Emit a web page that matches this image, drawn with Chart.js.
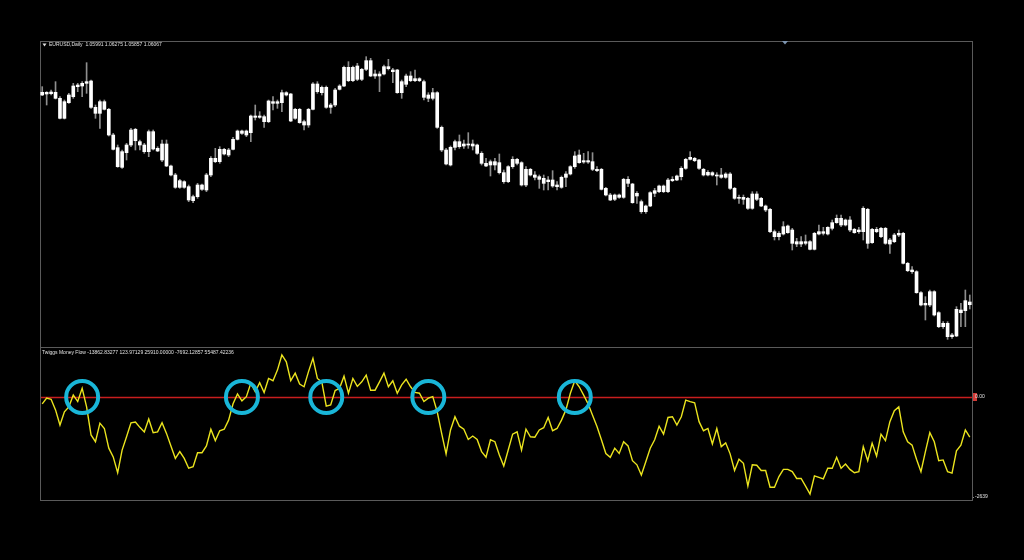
<!DOCTYPE html>
<html>
<head>
<meta charset="utf-8">
<title>EURUSD Daily - Twiggs Money Flow</title>
<script src="https://cdn.jsdelivr.net/npm/chart.js@4.4.1/dist/chart.umd.min.js"></script>
<style>
  html, body { margin: 0; padding: 0; background: #000; }
  #chart { display: block; }
</style>
</head>
<body>
<canvas id="chart" width="1024" height="560"></canvas>
<script>
// EURUSD daily candles, oldest first
var openP = [
  1.1228,1.1231,1.1232,1.1236,1.1218,1.1208,1.1205,1.1223,1.1253,1.1255,
  1.1263,1.1270,1.1191,1.1173,1.1185,1.1185,1.1108,1.1070,1.1058,1.1055,
  1.1078,1.1091,1.1088,1.1078,1.1058,1.1066,1.1068,1.1081,1.1081,1.1015,
  1.0988,1.0971,1.0968,1.0953,1.0923,1.0923,1.0945,1.0943,1.0988,1.1028,
  1.1028,1.1051,1.1063,1.1065,1.1095,1.1113,1.1120,1.1115,1.1161,1.1165,
  1.1163,1.1148,1.1203,1.1208,1.1205,1.1228,1.1231,1.1185,1.1185,1.1148,
  1.1138,1.1185,1.1238,1.1251,1.1251,1.1198,1.1198,1.1245,1.1255,1.1271,
  1.1311,1.1275,1.1305,1.1305,1.1331,1.1291,1.1285,1.1291,1.1307,1.1303,
  1.1303,1.1268,1.1260,1.1271,1.1277,1.1271,1.1268,1.1228,1.1218,1.1235,
  1.1131,1.1063,1.1018,1.1071,1.1073,1.1081,1.1078,1.1081,1.1078,1.1053,
  1.1023,1.1018,1.1028,1.1025,1.0995,1.0968,1.1013,1.1023,1.1025,1.1005,
  1.0988,1.0988,1.0983,1.0978,1.0968,1.0973,1.0958,1.0951,1.0981,1.0991,
  1.1013,1.1025,1.1031,1.1027,1.1028,1.1005,1.1005,1.0948,1.0928,1.0915,
  1.0921,1.0921,1.0963,1.0961,1.0933,1.0908,1.0895,1.0895,1.0933,1.0938,
  1.0955,1.0938,1.0971,1.0973,1.0983,1.1008,1.1035,1.1038,1.1033,1.1005,
  1.0996,1.0995,1.0988,1.0988,1.0981,1.0991,1.0948,1.0921,1.0921,1.0918,
  1.0888,1.0915,1.0918,1.0895,1.0885,1.0818,1.0813,1.0811,1.0815,1.0823,
  1.0788,1.0781,1.0783,1.0788,1.0765,1.0811,1.0813,1.0811,1.0828,1.0845,
  1.0858,1.0853,1.0853,1.0825,1.0818,1.0818,1.0885,1.0825,1.0818,1.0828,
  1.0828,1.0793,1.0788,1.0808,1.0813,1.0723,1.0703,1.0698,1.0635,1.0603,
  1.0598,1.0638,1.0575,1.0543,1.0543,1.0508,1.0505,1.0575,1.0581,1.0599
];
var highP = [
  1.1253,1.1238,1.1243,1.1268,1.1223,1.1213,1.1233,1.1263,1.1263,1.1268,
  1.1325,1.1273,1.1198,1.1213,1.1213,1.1188,1.1113,1.1078,1.1063,1.1083,
  1.1128,1.1128,1.1093,1.1083,1.1123,1.1123,1.1073,1.1093,1.1093,1.1018,
  1.0993,1.0975,1.0971,1.0958,1.0928,1.0963,1.0961,1.0993,1.1043,1.1068,
  1.1073,1.1068,1.1068,1.1101,1.1123,1.1123,1.1123,1.1168,1.1198,1.1178,
  1.1168,1.1213,1.1223,1.1213,1.1243,1.1238,1.1233,1.1188,1.1188,1.1153,
  1.1188,1.1265,1.1268,1.1255,1.1255,1.1203,1.1248,1.1259,1.1315,1.1328,
  1.1315,1.1323,1.1308,1.1343,1.1338,1.1303,1.1298,1.1318,1.1335,1.1308,
  1.1305,1.1273,1.1291,1.1298,1.1303,1.1280,1.1273,1.1235,1.1248,1.1238,
  1.1135,1.1068,1.1075,1.1093,1.1108,1.1093,1.1115,1.1093,1.1081,1.1058,
  1.1038,1.1033,1.1038,1.1051,1.1003,1.1016,1.1043,1.1038,1.1028,1.1013,
  1.1008,1.0998,1.0988,1.0988,1.0983,1.1001,1.0968,1.0985,1.0998,1.1016,
  1.1058,1.1063,1.1053,1.1058,1.1055,1.1013,1.1008,1.0951,1.0933,1.0931,
  1.0931,1.0978,1.0983,1.0963,1.0938,1.0913,1.0898,1.0938,1.0948,1.0958,
  1.0958,1.0978,1.0983,1.0988,1.1013,1.1038,1.1058,1.1041,1.1035,1.1008,
  1.1001,1.0998,1.0995,1.1008,1.0995,1.0995,1.0951,1.0928,1.0928,1.0921,
  1.0938,1.0938,1.0921,1.0898,1.0888,1.0823,1.0818,1.0848,1.0838,1.0828,
  1.0798,1.0803,1.0808,1.0791,1.0816,1.0838,1.0831,1.0833,1.0853,1.0868,
  1.0868,1.0856,1.0863,1.0828,1.0831,1.0893,1.0888,1.0828,1.0831,1.0831,
  1.0831,1.0798,1.0813,1.0823,1.0816,1.0726,1.0713,1.0701,1.0638,1.0623,
  1.0643,1.0641,1.0578,1.0548,1.0548,1.0513,1.0593,1.0603,1.0643,1.0628
];
var lowP = [
  1.1226,1.1198,1.1228,1.1216,1.1156,1.1156,1.1203,1.1218,1.1238,1.1223,
  1.1233,1.1188,1.1158,1.1128,1.1183,1.1105,1.1063,1.1011,1.1008,1.1033,
  1.1073,1.1063,1.1063,1.1053,1.1043,1.1063,1.1058,1.1028,1.1013,1.0985,
  1.0948,1.0948,1.0948,1.0908,1.0905,1.0918,1.0942,1.0938,1.0983,1.1025,
  1.1023,1.1048,1.1043,1.1063,1.1093,1.1110,1.1103,1.1088,1.1153,1.1158,
  1.1131,1.1145,1.1183,1.1188,1.1178,1.1225,1.1148,1.1155,1.1143,1.1123,
  1.1131,1.1183,1.1233,1.1228,1.1188,1.1173,1.1193,1.1243,1.1253,1.1268,
  1.1268,1.1271,1.1271,1.1301,1.1283,1.1278,1.1238,1.1288,1.1303,1.1265,
  1.1233,1.1218,1.1253,1.1268,1.1268,1.1268,1.1213,1.1208,1.1213,1.1128,
  1.1058,1.1018,1.1015,1.1063,1.1068,1.1068,1.1068,1.1063,1.1050,1.1018,
  1.1013,1.0985,1.1003,1.0991,1.0963,1.0965,1.1008,1.1018,1.0955,1.0953,
  1.0985,1.0973,1.0948,1.0943,1.0943,1.0951,1.0943,1.0948,1.0953,1.0988,
  1.1008,1.1023,1.1023,1.1023,1.1001,1.0998,1.0943,1.0925,1.0911,1.0911,
  1.0918,1.0918,1.0953,1.0903,1.0903,1.0873,1.0873,1.0893,1.0923,1.0935,
  1.0935,1.0935,1.0968,1.0971,1.0973,1.1005,1.1033,1.1028,1.1005,1.0985,
  1.0985,1.0985,1.0958,1.0978,1.0978,1.0945,1.0915,1.0903,1.0900,1.0885,
  1.0885,1.0911,1.0893,1.0878,1.0815,1.0793,1.0793,1.0808,1.0813,1.0763,
  1.0773,1.0773,1.0778,1.0763,1.0763,1.0808,1.0808,1.0808,1.0823,1.0843,
  1.0833,1.0835,1.0818,1.0813,1.0813,1.0793,1.0768,1.0783,1.0815,1.0800,
  1.0780,1.0753,1.0785,1.0803,1.0721,1.0698,1.0693,1.0633,1.0595,1.0553,
  1.0593,1.0565,1.0530,1.0528,1.0495,1.0498,1.0503,1.0533,1.0533,1.0586
];
var closeP = [
  1.1236,1.1236,1.1237,1.1218,1.1158,1.1158,1.1228,1.1255,1.1258,1.1263,
  1.1268,1.1191,1.1173,1.1208,1.1208,1.1108,1.1065,1.1013,1.1011,1.1078,
  1.1123,1.1125,1.1078,1.1058,1.1118,1.1118,1.1060,1.1033,1.1015,1.0988,
  1.0951,1.0951,1.0951,1.0913,1.0911,1.0958,1.0958,1.0988,1.1038,1.1038,
  1.1065,1.1065,1.1048,1.1095,1.1120,1.1120,1.1108,1.1165,1.1165,1.1161,
  1.1148,1.1210,1.1208,1.1203,1.1235,1.1235,1.1150,1.1158,1.1145,1.1138,
  1.1185,1.1261,1.1261,1.1235,1.1191,1.1191,1.1243,1.1255,1.1311,1.1311,
  1.1271,1.1315,1.1275,1.1331,1.1285,1.1285,1.1291,1.1313,1.1313,1.1298,
  1.1235,1.1235,1.1285,1.1285,1.1271,1.1277,1.1221,1.1218,1.1235,1.1131,
  1.1063,1.1021,1.1071,1.1088,1.1088,1.1075,1.1081,1.1075,1.1053,1.1023,
  1.1015,1.1028,1.1018,1.0995,1.0968,1.1013,1.1035,1.1035,1.0958,1.0958,
  1.1005,1.0981,1.0975,1.0963,1.0973,1.0955,1.0953,1.0981,1.0991,1.1013,
  1.1045,1.1048,1.1027,1.1031,1.1005,1.1001,1.0945,1.0928,1.0913,1.0928,
  1.0928,1.0975,1.0975,1.0905,1.0925,1.0878,1.0878,1.0935,1.0941,1.0955,
  1.0938,1.0973,1.0975,1.0985,1.1008,1.1035,1.1041,1.1031,1.1008,1.0988,
  1.0988,1.0988,1.0985,1.0981,1.0991,1.0948,1.0918,1.0918,1.0915,1.0888,
  1.0931,1.0931,1.0895,1.0883,1.0818,1.0803,1.0803,1.0833,1.0835,1.0783,
  1.0781,1.0788,1.0788,1.0765,1.0813,1.0818,1.0818,1.0831,1.0845,1.0858,
  1.0838,1.0838,1.0823,1.0815,1.0823,1.0888,1.0783,1.0785,1.0825,1.0803,
  1.0783,1.0781,1.0808,1.0813,1.0723,1.0701,1.0698,1.0635,1.0598,1.0598,
  1.0638,1.0568,1.0533,1.0533,1.0503,1.0503,1.0585,1.0583,1.0611,1.0607
];

// Twiggs Money Flow, one value per candle
var tmf = [
  -180,-30,-60,-340,-740,-390,-260,50,-120,230,
  -260,-1000,-1180,-690,-830,-1350,-1580,-2000,-1400,-1050,
  -680,-660,-800,-920,-580,-940,-920,-680,-960,-1290,
  -1620,-1440,-1620,-1880,-1840,-1470,-1470,-1290,-850,-1150,
  -890,-850,-610,-180,80,-100,10,360,140,380,
  120,490,430,710,1110,930,430,630,340,270,
  670,1020,490,400,-240,-210,170,230,550,100,
  490,280,400,580,180,180,400,630,270,430,
  100,320,470,270,120,100,-120,-30,10,-390,
  -960,-1500,-870,-520,-770,-850,-1120,-1030,-1120,-1440,
  -1590,-1130,-1180,-1530,-1820,-1400,-980,-920,-1400,-850,
  -1050,-1060,-870,-810,-540,-890,-830,-610,-340,100,
  430,270,50,-180,-480,-780,-1130,-1490,-1590,-1350,
  -1490,-1180,-1290,-1680,-1790,-2060,-1710,-1350,-1130,-770,
  -980,-540,-520,-740,-520,-80,-120,-150,-650,-890,
  -830,-1240,-830,-1310,-1210,-1500,-1940,-1640,-1750,-2350,
  -1790,-1800,-1940,-1940,-2380,-2380,-2100,-1910,-1910,-1970,
  -2150,-2150,-2350,-2560,-2080,-2120,-2160,-1880,-1880,-1590,
  -1880,-1770,-1910,-2000,-1970,-1310,-1680,-1220,-1560,-980,
  -1150,-650,-360,-260,-920,-1180,-1270,-1640,-1970,-1440,
  -940,-1180,-1680,-1660,-1970,-2010,-1420,-1270,-870,-1060
];

// zero-line crossings that are ringed (candle index)
var circleBars = [9, 45, 64, 87, 120];

var headerText = 'EURUSD,Daily  1.05991 1.06275 1.05857 1.06067';
var tmfText = 'Twiggs Money Flow -13862.83277 123.97129 25910.00000 -7692.12857 55487.42236';
var tmfTicks = [0, -2639];

var priceMin = 1.0472, priceMax = 1.1390;
var tmfMin = -2718, tmfMax = 1320;

var labels = openP.map(function(v, i){ return 'D' + (i + 1); });

var yellow = '#ebe41e';
var cyan = '#19b6d8';

function fixWidth(scale){
    scale.width = 52;
}

var mt4Frame = {
    id: 'mt4Frame',
    beforeDraw: function(chart){
        var ctx = chart.ctx, a = chart.chartArea, y2 = chart.scales.y2;
        ctx.save();
        ctx.fillStyle = '#000';
        ctx.fillRect(0, 0, chart.width, chart.height);
        // red tag of the level value
        var zy = Math.round(y2.getPixelForValue(0));
        ctx.fillStyle = '#d23a36';
        ctx.fillRect(a.right + 1, zy - 4, 4, 8);
        ctx.restore();
    },
    beforeDatasetsDraw: function(chart){
        var ctx = chart.ctx, a = chart.chartArea, y = chart.scales.y, y2 = chart.scales.y2;
        ctx.save();
        ctx.strokeStyle = '#5a5a5a';
        ctx.lineWidth = 1;
        ctx.strokeRect(a.left + 0.5, a.top + 0.5, a.right - a.left, a.bottom - a.top);
        var sep = Math.round(y.bottom) + 0.5;
        ctx.beginPath();
        ctx.moveTo(a.left, sep);
        ctx.lineTo(a.right, sep);
        ctx.stroke();

        // zero level of the indicator
        var zy = Math.round(y2.getPixelForValue(0)) + 0.5;
        ctx.strokeStyle = '#c81e1e';
        ctx.lineWidth = 1.6;
        ctx.beginPath();
        ctx.moveTo(a.left + 1, zy);
        ctx.lineTo(a.right, zy);
        ctx.stroke();
        ctx.restore();
    },
    afterDraw: function(chart){
        var ctx = chart.ctx, a = chart.chartArea, y2 = chart.scales.y2;
        ctx.save();
        ctx.font = '5px "Liberation Sans", Arial, sans-serif';
        ctx.fillStyle = '#e0e0e0';
        ctx.textBaseline = 'middle';
        ctx.textAlign = 'left';
        ctx.fillText(headerText, a.left + 9, a.top + 4);
        ctx.fillText(tmfText, a.left + 2, y2.top + 5.5);

        // small triangle before the symbol name
        ctx.beginPath();
        ctx.moveTo(a.left + 2.5, a.top + 2.5);
        ctx.lineTo(a.left + 6.5, a.top + 2.5);
        ctx.lineTo(a.left + 4.5, a.top + 5.5);
        ctx.closePath();
        ctx.fill();

        // chart shift marker on the top edge
        ctx.fillStyle = '#7d95b0';
        ctx.beginPath();
        ctx.moveTo(782, a.top);
        ctx.lineTo(788, a.top);
        ctx.lineTo(785, a.top + 3.5);
        ctx.closePath();
        ctx.fill();
        ctx.restore();
    }
};

var ctx = document.getElementById('chart').getContext('2d');
var chart = new Chart(ctx, {
    type: 'bar',
    data: {
        labels: labels,
        datasets: [{
            label: 'body',
            data: openP.map(function(o, i){ return [o, closeP[i]]; }),
            backgroundColor: '#ffffff',
            borderWidth: 0,
            barThickness: 3,
            minBarLength: 1,
            grouped: false,
            order: 1
        }, {
            label: 'wick',
            data: highP.map(function(h, i){ return [lowP[i], h]; }),
            backgroundColor: '#8e8e8e',
            borderWidth: 0,
            barThickness: 1,
            grouped: false,
            order: 2
        }, {
            type: 'line',
            label: 'Twiggs Money Flow',
            data: tmf,
            yAxisID: 'y2',
            borderColor: yellow,
            borderWidth: 1.4,
            pointRadius: 0,
            tension: 0,
            fill: false,
            order: 0
        }, {
            type: 'scatter',
            label: 'marks',
            data: circleBars.map(function(b){ return {x: labels[b], y: 0}; }),
            yAxisID: 'y2',
            pointRadius: 16,
            pointBorderWidth: 4,
            borderWidth: 4,
            pointBorderColor: cyan,
            borderColor: cyan,
            backgroundColor: 'rgba(0,0,0,0)',
            pointBackgroundColor: 'rgba(0,0,0,0)',
            showLine: false,
            order: -1
        }]
    },
    options: {
        responsive: false,
        maintainAspectRatio: false,
        animation: false,
        events: [],
        layout: {
            padding: { left: 40, top: 41, right: 0, bottom: 60 }
        },
        plugins: {
            legend: { display: false },
            tooltip: { enabled: false }
        },
        scales: {
            x: {
                type: 'category',
                offset: true,
                display: false
            },
            y: {
                type: 'linear',
                position: 'right',
                stack: 'panes',
                stackWeight: 306,
                min: priceMin,
                max: priceMax,
                ticks: { display: false },
                grid: { display: false },
                border: { display: false },
                afterFit: fixWidth
            },
            y2: {
                type: 'linear',
                position: 'right',
                stack: 'panes',
                stackWeight: 153,
                min: tmfMin,
                max: tmfMax,
                afterBuildTicks: function(scale){
                    scale.ticks = tmfTicks.map(function(v){ return {value: v}; });
                },
                ticks: {
                    color: '#e0e0e0',
                    padding: 1,
                    font: { family: '"Liberation Sans", Arial, sans-serif', size: 5 },
                    callback: function(v){ return v === 0 ? '0.00' : String(v); }
                },
                grid: {
                    display: true,
                    drawOnChartArea: false,
                    tickLength: 2,
                    color: function(c){ return c.tick && c.tick.value === 0 ? 'rgba(0,0,0,0)' : '#8a8a8a'; }
                },
                border: { display: false },
                afterFit: fixWidth
            }
        }
    },
    plugins: [mt4Frame]
});
</script>
</body>
</html>
